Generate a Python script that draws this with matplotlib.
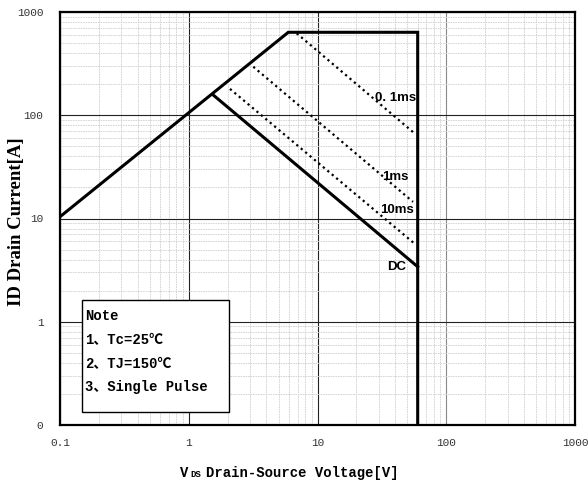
"""Safe operating area chart: ID vs VDS on log-log axes, with pulse lines."""

import matplotlib
matplotlib.use("Agg")
import matplotlib.pyplot as plt
from matplotlib.patches import Rectangle

# outer SOA boundary (rising limit, current limit, voltage limit)
soa_v = [0.1, 5.93, 60, 60]
soa_i = [10.4, 636, 636, 0.1]

# DC line
dc_v = [1.55, 60]
dc_i = [157, 3.41]

# single pulse lines
pulse_names = ["0. 1ms", "1ms", "10ms"]
pulse_v = [[6.9, 57.5], [3.17, 55.2], [2.09, 57.2]]
pulse_i = [[621, 65.8], [295, 14.5], [180, 5.66]]
pulse_label_xy = [(40.4, 148), (40.0, 25.4), (41.2, 12.1)]
dc_label_xy = (41.2, 3.39)

ticks = [0.1, 1, 10, 100, 1000]
xtick_labels = ["0.1", "1", "10", "100", "1000"]
ytick_labels = ["0", "1", "10", "100", "1000"]

note_lines = ["Note", "1、Tc=25℃", "2、TJ=150℃", "3、Single Pulse"]

MONO = ["Liberation Mono", "Noto Sans CJK SC", "DejaVu Sans"]
NARROW = ["Liberation Sans Narrow", "Liberation Sans"]


def main():
    fig = plt.figure(figsize=(5.88, 4.88), dpi=100)
    ax = fig.add_axes([60/588, 63/488, 515/588, 413/488])
    ax.set_xscale("log")
    ax.set_yscale("log")
    ax.set_xlim(0.1, 1000)
    ax.set_ylim(0.1, 1000)

    # grid
    ax.grid(which="minor", color="#cfcfcf", linestyle=(0, (2, 1)), lw=0.6)
    ax.grid(which="major", color="#222222", linestyle="-", lw=0.8)
    ax.set_axisbelow(True)

    ax.set_xticks(ticks)
    ax.set_xticklabels(xtick_labels, family=MONO, fontsize=8, color="#333333")
    ax.set_yticks(ticks)
    ax.set_yticklabels(ytick_labels, family=MONO, fontsize=8, color="#333333")
    ax.tick_params(which="both", length=0)
    ax.tick_params(axis="x", pad=9)
    ax.tick_params(axis="y", pad=12)
    for sp in ax.spines.values():
        sp.set_linewidth(1.6)
    # the 100 V major line is drawn lighter in the original
    for gl, t in zip(ax.get_xgridlines(), ax.get_xticks()):
        if t == 100:
            gl.set_color("#888888")

    # curves
    ax.plot(soa_v, soa_i, color="black", lw=2.2, solid_joinstyle="miter")
    ax.plot(dc_v, dc_i, color="black", lw=2.2)
    for v, i in zip(pulse_v, pulse_i):
        ax.plot(v, i, color="black", lw=1.6, linestyle=(0, (1, 1.6)))

    for name, (x, y) in zip(pulse_names, pulse_label_xy):
        ax.text(x, y, name, ha="center", va="center", family=NARROW,
                fontsize=9.5, weight="bold")
    ax.text(dc_label_xy[0], dc_label_xy[1], "DC", ha="center", va="center",
            family=NARROW, fontsize=9.5, weight="bold")

    # note box
    ax.add_patch(Rectangle((0.0427, 0.0315), 0.2855, 0.2712,
                           transform=ax.transAxes, facecolor="white",
                           edgecolor="black", lw=1.0, zorder=3))
    for k, line in enumerate(note_lines):
        ax.text(0.0485, 0.264 - k*0.0577, line, transform=ax.transAxes,
                ha="left", va="center", family=MONO, fontsize=10,
                weight="bold", zorder=4)

    # axis labels
    fig.text(17/588, 1 - 222/488, "ID Drain Current[A]", rotation=90,
             ha="center", va="center", family="Liberation Serif",
             fontsize=13.5, weight="bold")
    ylab = 1 - 473/488
    fig.text(180/588, ylab, "V", ha="left", va="center", family=MONO,
             fontsize=10, weight="bold")
    fig.text(190/588, ylab - 0.004, "DS", ha="left", va="center",
             family=MONO, fontsize=6.5, weight="bold")
    fig.text(206/588, ylab, "Drain-Source Voltage[V]", ha="left",
             va="center", family=MONO, fontsize=10, weight="bold")

    fig.savefig("out.png", dpi=100)


if __name__ == "__main__":
    main()
